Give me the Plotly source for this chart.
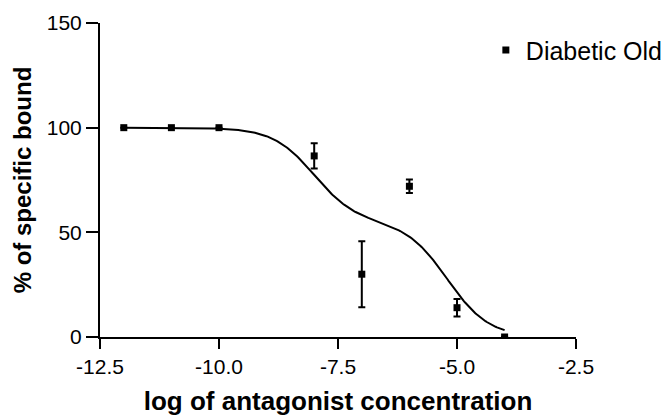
import numpy as np
import plotly.graph_objects as go

# Competition binding data (mean ± SEM)
log_conc = [-12, -11, -10, -8, -7, -6, -5, -4]
pct_bound = [100, 100, 100, 86.5, 30.0, 72.0, 14.0, 0]
sem = [0, 0, 0, 6.0, 15.8, 3.2, 4.2, 0]

# Two-site competition fit parameters
TOP = 100.0
BOTTOM = 0.0
FRACTION_HIGH = 0.45
LOGIC50_HIGH = -8.0
LOGIC50_LOW = -5.2

x_ticks = [-12.5, -10.0, -7.5, -5.0, -2.5]
y_ticks = [0, 50, 100, 150]

fit_x = np.linspace(min(log_conc), max(log_conc), 300)
fit_y = BOTTOM + (TOP - BOTTOM) * (
    FRACTION_HIGH / (1 + 10 ** (fit_x - LOGIC50_HIGH))
    + (1 - FRACTION_HIGH) / (1 + 10 ** (fit_x - LOGIC50_LOW))
)

FONT = "Liberation Sans, Arial, sans-serif"

fig = go.Figure()
fig.add_trace(go.Scatter(
    x=fit_x, y=fit_y, mode="lines",
    line=dict(color="black", width=2),
    showlegend=False, hoverinfo="skip",
))
fig.add_trace(go.Scatter(
    x=log_conc, y=pct_bound, mode="markers",
    name="Diabetic Old",
    marker=dict(symbol="square", size=7, color="black"),
    error_y=dict(type="data", array=sem, color="black", thickness=2, width=3.5),
))

fig.update_layout(
    width=672, height=418,
    margin=dict(l=100, r=96, t=23, b=81, autoexpand=False),
    paper_bgcolor="white", plot_bgcolor="white",
    font=dict(family=FONT, color="black"),
    showlegend=True,
    legend=dict(
        x=0.723, y=0.935, xanchor="left", yanchor="top",
        xref="container", yref="container",
        font=dict(size=25, family=FONT, color="black"),
        bgcolor="rgba(0,0,0,0)", borderwidth=0,
    ),
)

fig.update_xaxes(
    range=[-12.5, -2.5], tickvals=x_ticks,
    ticktext=[f"{v:.1f}" for v in x_ticks],
    showgrid=False, zeroline=False, automargin=False,
    showline=True, linecolor="black", linewidth=2,
    ticks="outside", ticklen=10, tickwidth=2, tickcolor="black",
    tickfont=dict(size=21, family=FONT, color="black"),
    title=dict(text="<b>log of antagonist concentration</b>",
               font=dict(size=26, family=FONT, color="black"), standoff=15),
)
fig.update_yaxes(
    range=[0, 150], tickvals=y_ticks,
    showgrid=False, zeroline=False, automargin=False,
    showline=True, linecolor="black", linewidth=2,
    ticks="outside", ticklen=12, tickwidth=2, tickcolor="black",
    tickfont=dict(size=21, family=FONT, color="black"),
    title=dict(text="<b>% of specific bound</b>",
               font=dict(size=24, family=FONT, color="black"), standoff=8),
)

fig.write_html("out.html")
